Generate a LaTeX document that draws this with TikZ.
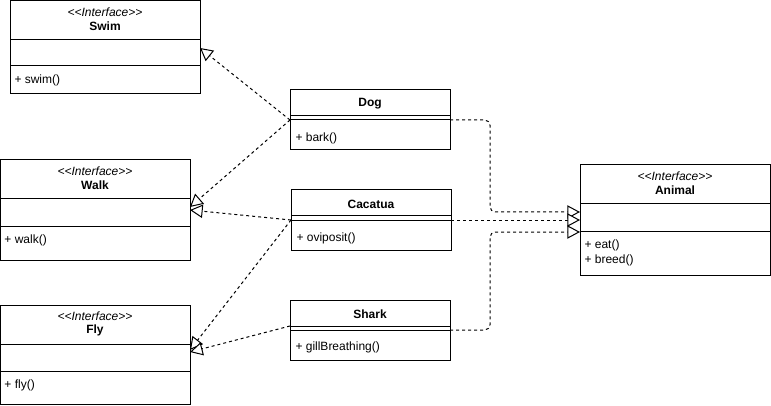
\documentclass[tikz,border=0pt]{standalone}
\usepackage{fontspec}
\setmainfont{Liberation Sans}
\usetikzlibrary{arrows.meta,fit}
\newcommand\umlcls[5]{%
  \coordinate (#1-nw) at (#2,#3);
  \coordinate (#1-se) at (#4,#5);
  \node[clsbox, fit=(#1-nw)(#1-se)] (#1) {};}
\newcommand\stereotxt{<{}<Interface>{}>}
\begin{document}
\begin{tikzpicture}[x=0.75pt,y=-0.75pt,
  line width=0.75pt,
  clsbox/.style={draw, inner sep=0pt, line width=0.75pt},
  stereo/.style={font=\fontsize{9pt}{10pt}\selectfont\itshape, inner sep=0pt},
  cname/.style={font=\fontsize{9pt}{10pt}\selectfont\bfseries, inner sep=0pt},
  item/.style={font=\fontsize{9pt}{10pt}\selectfont, inner sep=0pt, anchor=west},
  real/.style={dash pattern=on 2.25pt off 2.25pt, line width=0.75pt,
    -{Triangle[length=9.5pt,width=10pt,fill=white]}},
  bent/.style={real, rounded corners=4pt},
]
\useasboundingbox (0,0) rectangle (771,406);

% Swim
\umlcls{swim}{10}{1}{200}{94}
\draw (10,40) -- (200,40);
\draw (10,66) -- (200,66);
\node[stereo] (swimst) at (105,12) {\stereotxt};
\node[cname] (swimnm) at (105,26) {Swim};
\node[item] (swimm) at (14,80) {+ swim()};

% Walk
\umlcls{walk}{0.5}{160}{190}{260}
\draw (0.5,199) -- (190,199);
\draw (0.5,226) -- (190,226);
\node[stereo] (walkst) at (95,171) {\stereotxt};
\node[cname] (walknm) at (95,185) {Walk};
\node[item] (walkm) at (4,240) {+ walk()};

% Fly
\umlcls{fly}{0.5}{305}{190}{404}
\draw (0.5,344) -- (190,344);
\draw (0.5,371) -- (190,371);
\node[stereo] (flyst) at (95,316) {\stereotxt};
\node[cname] (flynm) at (95,330) {Fly};
\node[item] (flym) at (4,385) {+ fly()};

% Dog
\umlcls{dog}{290}{90}{450}{150}
\draw (290,116) -- (450,116);
\draw (290,120) -- (450,120);
\node[cname] (dognm) at (370,104) {Dog};
\node[item] (dogm) at (295,138) {+ bark()};

% Cacatua
\umlcls{cac}{291}{190}{451}{250}
\draw (291,216) -- (451,216);
\draw (291,220) -- (451,220);
\node[cname] (cacnm) at (371,204) {Cacatua};
\node[item] (cacm) at (296,238) {+ oviposit()};

% Shark
\umlcls{shark}{290}{300}{450}{360}
\draw (290,326) -- (450,326);
\draw (290,330) -- (450,330);
\node[cname] (sharknm) at (370,314) {Shark};
\node[item] (sharkm) at (295,347) {+ gillBreathing()};

% Animal
\umlcls{animal}{580}{165}{770}{275}
\draw (580,204) -- (770,204);
\draw (580,231) -- (770,231);
\node[stereo] (animalst) at (675,176) {\stereotxt};
\node[cname] (animalnm) at (675,190) {Animal};
\node[item] (animalm1) at (584,245) {+ eat()};
\node[item] (animalm2) at (584,260) {+ breed()};

% ports
\coordinate (dogL) at (290,120);
\coordinate (dogR) at (450,120);
\coordinate (cacL) at (291,220);
\coordinate (cacR) at (451,220);
\coordinate (sharkL) at (290,326);
\coordinate (sharkR) at (450,330);
\coordinate (swimIn) at (200,48);
\coordinate (walkIn1) at (190,207);
\coordinate (walkIn2) at (190,210);
\coordinate (flyIn1) at (190,350);
\coordinate (flyIn2) at (190,352);
\coordinate (animalIn1) at (580,212);
\coordinate (animalIn2) at (580,220);
\coordinate (animalIn3) at (580,232);

% connectors
\draw[real] (dogL) -- (swimIn);
\draw[real] (dogL) -- (walkIn1);
\draw[real] (cacL) -- (walkIn2);
\draw[real] (cacL) -- (flyIn1);
\draw[real] (sharkL) -- (flyIn2);
\draw[bent] (dogR) -- (490,120) -- (490,212) -- (animalIn1);
\draw[real] (cacR) -- (animalIn2);
\draw[bent] (sharkR) -- (490,330) -- (490,232) -- (animalIn3);
\end{tikzpicture}
\end{document}
